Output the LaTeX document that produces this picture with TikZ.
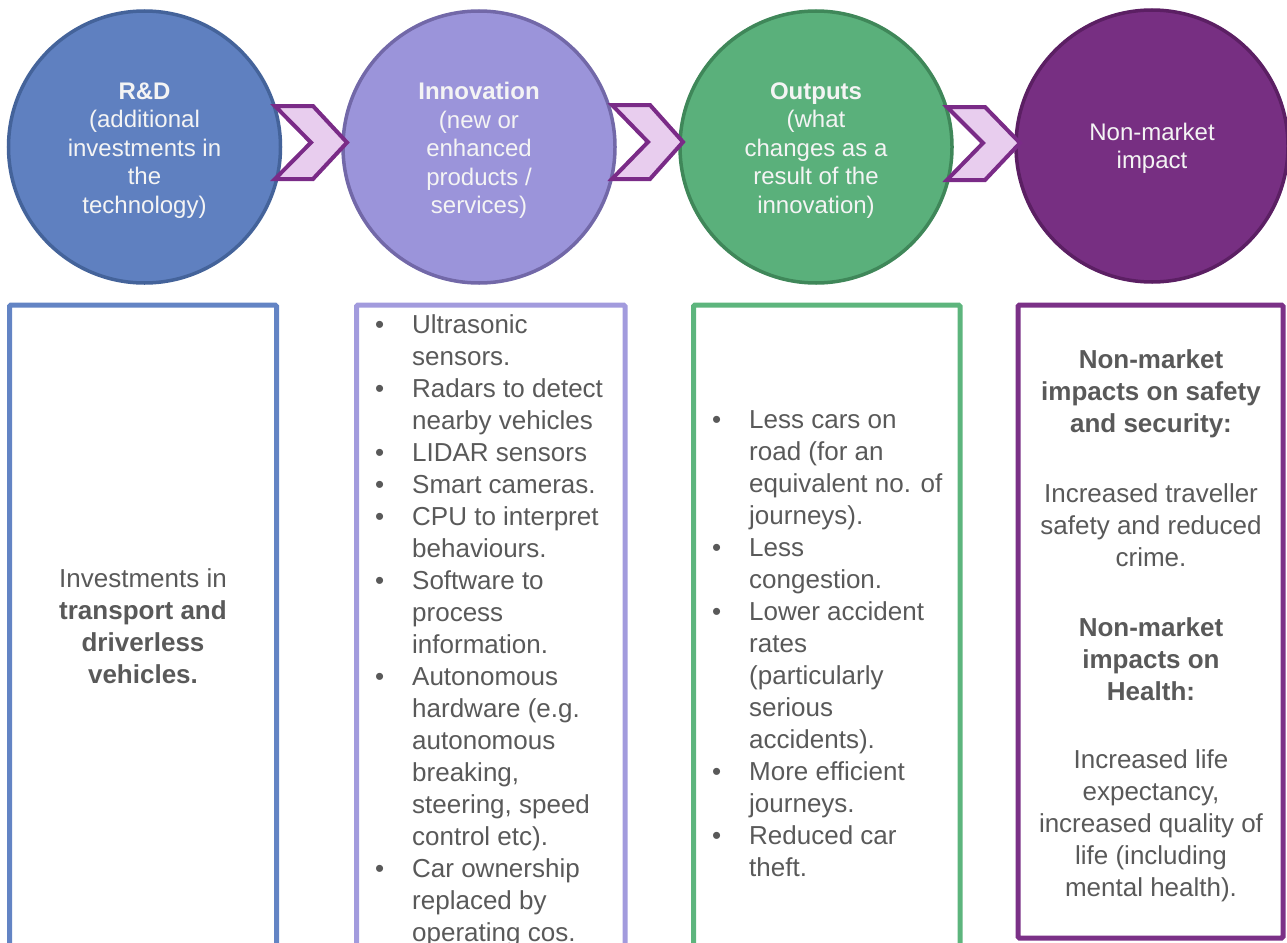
\documentclass[tikz,border=0pt]{standalone}
\usepackage{fontspec}
\setmainfont{Liberation Sans}
\definecolor{cOneFill}{HTML}{5F80C0}
\definecolor{cOneLine}{HTML}{44639A}
\definecolor{cTwoFill}{HTML}{9B94DA}
\definecolor{cTwoLine}{HTML}{7268A8}
\definecolor{cThreeFill}{HTML}{5AB07B}
\definecolor{cThreeLine}{HTML}{3F8759}
\definecolor{cFourFill}{HTML}{772F82}
\definecolor{cFourLine}{HTML}{5B1F63}
\definecolor{chevFill}{HTML}{E8CDEE}
\definecolor{chevLine}{HTML}{7A2B87}
\definecolor{bOne}{HTML}{6384C4}
\definecolor{bTwo}{HTML}{A29BDD}
\definecolor{bThree}{HTML}{5DB57D}
\definecolor{bFour}{HTML}{7B3187}
\definecolor{txtgray}{HTML}{595959}
\definecolor{ctext}{HTML}{F4F4F4}
\tikzset{
  stage/.style={circle, minimum size=272pt, line width=3.5pt, inner sep=0pt},
  stagetext/.style={inner sep=0pt, text=ctext, align=center, font=\fontsize{24}{28.5}\selectfont},
  chev/.style={fill=chevFill, draw=chevLine, line width=4pt, line join=miter},
  panel/.style={line width=5pt, rounded corners=1.5pt},
  boxtext/.style={inner sep=0pt, text=txtgray, font=\fontsize{26}{32}\selectfont}
}
\begin{document}
\begin{tikzpicture}[x=1pt,y=-1pt]
\useasboundingbox (0,0) rectangle (1287,942);
\clip (0,0) rectangle (1287,942);

% circles
\node[stage, fill=cOneFill, draw=cOneLine] (c1) at (144.5,147) {};
\node[stage, fill=cTwoFill, draw=cTwoLine] (c2) at (479,147) {};
\node[stage, fill=cThreeFill, draw=cThreeLine] (c3) at (816,147) {};
\node[stage, fill=cFourFill, draw=cFourLine] (c4) at (1152,146) {};

\node[stagetext] (l1) at ([yshift=-3.5pt]c1.center)
  {\textbf{R\&D}\\(additional\\investments in\\the\\technology)};
\node[stagetext] (l2) at ([yshift=-3.5pt]c2.center)
  {\textbf{Innovation}\\(new or\\enhanced\\products /\\services)};
\node[stagetext] (l3) at ([yshift=-3.5pt]c3.center)
  {\textbf{Outputs}\\(what\\changes as a\\result of the\\innovation)};
\node[stagetext] (l4) at ([yshift=-2.5pt]c4.center)
  {Non-market\\impact};

% chevrons
\draw[chev] (275,106) -- (313,106) -- (347,142.5) -- (313,179) -- (275,179) -- (311,142.5) -- cycle;
\draw[chev] (612,105) -- (650,105) -- (683,142) -- (650,179) -- (612,179) -- (648,142) -- cycle;
\draw[chev] (947,107) -- (985,107) -- (1020,143) -- (985,180) -- (947,180) -- (983,143) -- cycle;

% panels
\draw[panel, draw=bOne] (9.5,305) rectangle (276.5,980);
\draw[panel, draw=bTwo] (356.5,305) rectangle (625,980);
\draw[panel, draw=bThree] (693.5,305) rectangle (960,980);
\draw[panel, draw=bFour] (1018,305) rectangle (1283,938);

% panel texts
\node[boxtext, anchor=north] (t1) at (143,564.6) {%
  \begin{tabular}{@{}c@{}}Investments in\\\textbf{transport and}\\\textbf{driverless}\\\textbf{vehicles.}\end{tabular}};

\node[boxtext, anchor=north west] (t2) at (375,310.6) {%
  \begin{tabular}{@{}p{37pt}@{}l@{}}
  • & Ultrasonic\\ & sensors.\\
  • & Radars to detect\\ & nearby vehicles\\
  • & LIDAR sensors\\
  • & Smart cameras.\\
  • & CPU to interpret\\ & behaviours.\\
  • & Software to\\ & process\\ & information.\\
  • & Autonomous\\ & hardware (e.g.\\ & autonomous\\ & breaking,\\ & steering, speed\\ & control etc).\\
  • & Car ownership\\ & replaced by\\ & operating cos.
  \end{tabular}};

\node[boxtext, anchor=north west] (t3) at (712,405.6) {%
  \begin{tabular}{@{}p{37pt}@{}l@{}}
  • & Less cars on\\ & road (for an\\ & equivalent\ no. of\\ & journeys).\\
  • & Less\\ & congestion.\\
  • & Lower accident\\ & rates\\ & (particularly\\ & serious\\ & accidents).\\
  • & More efficient\\ & journeys.\\
  • & Reduced car\\ & theft.
  \end{tabular}};

\node[boxtext, anchor=north] (t4) at (1151,345.6) {%
  \begin{tabular}{@{}c@{}}
  \textbf{Non-market}\\\textbf{impacts on safety}\\\textbf{and security:}\\[38pt]
  Increased traveller\\safety and reduced\\crime.\\[38pt]
  \textbf{Non-market}\\\textbf{impacts on}\\\textbf{Health:}\\[36pt]
  Increased life\\expectancy,\\increased quality of\\life (including\\mental health).
  \end{tabular}};
\end{tikzpicture}
\end{document}
